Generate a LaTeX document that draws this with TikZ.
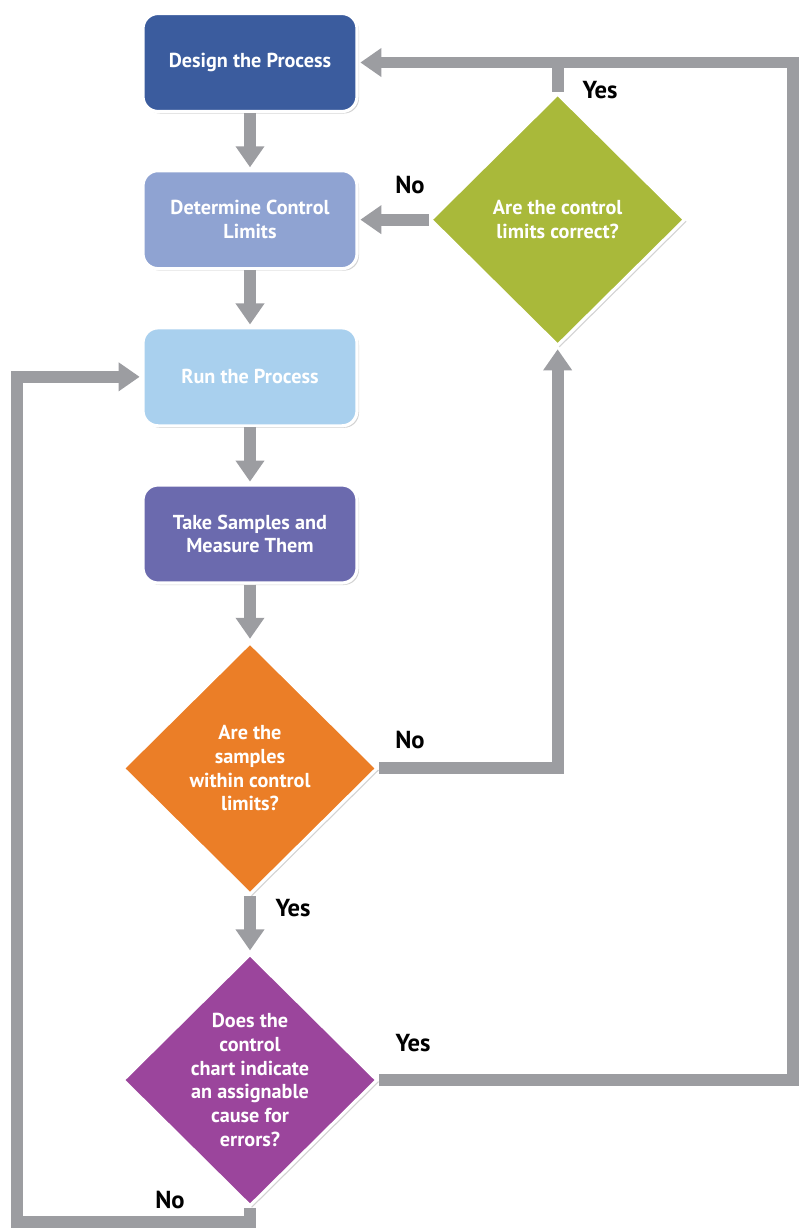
\documentclass[tikz,border=0pt]{standalone}
\usepackage{fontspec}
\setmainfont{PT Sans}
\usetikzlibrary{positioning,arrows.meta,shapes.geometric,shadows}
\definecolor{spcblue}{HTML}{3B5C9E}
\definecolor{spcperi}{HTML}{8FA3D2}
\definecolor{spcsky}{HTML}{A9D0EE}
\definecolor{spcviolet}{HTML}{6B6AAE}
\definecolor{spcolive}{HTML}{A9B93A}
\definecolor{spcorange}{HTML}{EB7E27}
\definecolor{spcplum}{HTML}{9B459C}
\definecolor{spcgray}{HTML}{9C9DA1}
\tikzset{
    base/.style={draw=white,line width=1.8pt,text=white,align=center,
        font=\fontsize{11.5}{13.5}\selectfont\bfseries,
        drop shadow={opacity=0.35,shadow xshift=0.4mm,shadow yshift=-0.4mm}},
    stepbox/.style={base,rounded corners=3mm,minimum width=4.28cm,minimum height=1.96cm},
    query/.style={base,diamond,inner sep=0pt,minimum width=5.1cm,minimum height=5.05cm},
    flow/.style={draw=spcgray,line width=6.8pt,-{Triangle[length=0.42cm,width=0.55cm]},shorten >=1pt},
    link/.style={draw=spcgray,line width=6.8pt},
    answer/.style={font=\fontsize{14}{16}\selectfont\bfseries,text=black},
}
\begin{document}
\begin{tikzpicture}[node distance=1.12cm]
    \useasboundingbox (0,0) rectangle (16,-24.64);

    \node[stepbox,fill=spcblue] (design) at (5,-1.25) {Design the Process};
    \node[stepbox,fill=spcperi,below=of design] (limits) {Determine Control\\Limits};
    \node[stepbox,fill=spcsky,below=of limits] (run) {Run the Process};
    \node[stepbox,fill=spcviolet,below=of run] (sample) {Take Samples and\\Measure Them};
    \node[query,fill=spcorange,below=of sample] (within) {Are the\\samples\\within control\\limits?};
    \node[query,fill=spcplum,below=of within] (cause) {Does the\\control\\chart indicate\\an assignable\\cause for\\errors?};
    \node[query,fill=spcolive,right=1.4cm of limits] (correct) {Are the control\\limits correct?};

    \coordinate (ne) at (15.86,-1.25);
    \coordinate (sw) at (0.34,-24.44);

    % main line
    \path[flow] (design) -- (limits);
    \path[flow] (limits) -- (run);
    \path[flow] (run) -- (sample);
    \path[flow] (sample) -- (within);
    \path[flow] (within) -- (cause);

    % loops back
    \path[flow] (correct.west) -- (limits.east);
    \path[flow] (within.east) -| (correct.south);
    \path[link] (correct.north) -- (correct.north |- design.east);
    \path[flow] (cause.east) -| (ne) -- (design.east);
    \path[flow] (cause.south) |- (sw) |- (run.west);

    \node[answer] (yesA) at (12.0,-1.8) {Yes};
    \node[answer] (noA) at (8.2,-3.7) {No};
    \node[answer] (noB) at (8.2,-14.8) {No};
    \node[answer] (yesB) at (5.86,-18.16) {Yes};
    \node[answer] (yesC) at (8.26,-20.86) {Yes};
    \node[answer] (noC) at (3.4,-24.0) {No};
\end{tikzpicture}
\end{document}
